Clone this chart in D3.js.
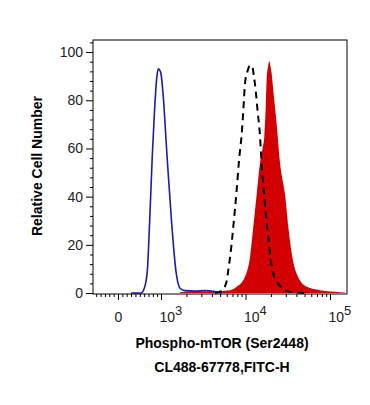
<!DOCTYPE html>
<html>
<head>
<meta charset="utf-8">
<script src="https://cdn.jsdelivr.net/npm/d3@7"></script>
<style>
  body { margin: 0; background: #fff; }
  text { font-family: "Liberation Sans", Arial, sans-serif; }
</style>
</head>
<body>
<div id="chart"></div>
<script>
// histogram samples: fluorescence intensity (FITC-H) and relative cell number
var blueX = [300, 528, 603, 672, 727, 787, 842, 889, 929, 965, 1000, 1056, 1178, 1331, 1504, 1679, 1923, 2526, 3317, 4356, 5272];
var blueY = [0, 0, 2, 9, 30, 57, 77, 89, 93, 92.5, 91, 83, 57, 30, 9, 2, 1, 0.8, 1, 0.6, 0];

var dashX = [4356, 5272, 5991, 6257, 6735, 7171, 7870, 8378, 9016, 9470, 9865, 10560, 11310, 12100, 12440, 13210, 13950, 14720, 15680, 16560, 17480, 18620, 19870, 21330, 23400, 25610, 29340, 38530, 50600];
var dashY = [0, 1, 5, 9.5, 18, 27.5, 43, 55, 66, 77, 87, 92, 94.5, 94, 91, 84, 75, 67, 51, 42, 32, 23, 14, 8, 5, 3, 1.2, 0.3, 0];

var redX = [1679, 2526, 3317, 4356, 5720, 6555, 7870, 9865, 11310, 12370, 13570, 14850, 15900, 16690, 17340, 17820, 18470, 19130, 19760, 20420, 21330, 23400, 25610, 27410, 29340, 32100, 35220, 40360, 53010, 76150, 114600, 150500];
var redY = [0.3, 0.8, 0.6, 0.7, 1, 1.2, 2.6, 6.8, 15, 27.5, 41, 54, 60, 65, 77, 89, 94, 96.3, 94, 91, 84, 70, 54, 47, 41, 27.5, 16.5, 8, 2.6, 1.2, 0.5, 0.2];

var yMajor = [0, 20, 40, 60, 80, 100];
var xMajor = [0, 1e3, 1e4, 1e5];
var xMajorLabels = ["0", "3", "4", "5"];
var xLinMinor = [-500, -400, -300, -200, -100, 100, 200, 300, 400, 500, 600, 700, 800, 900];
var xLogMinor = [2e3, 3e3, 4e3, 5e3, 6e3, 7e3, 8e3, 9e3, 2e4, 3e4, 4e4, 5e4, 6e4, 7e4, 8e4, 9e4];

var margin = {top: 40, right: 23, bottom: 111, left: 93},
    width = 370 - margin.left - margin.right,
    height = 405 - margin.top - margin.bottom;

var svg = d3.select("#chart")
    .append("svg")
    .attr("width", 370)
    .attr("height", 405)
    .append("g")
    .attr("transform", "translate(" + margin.left + "," + margin.top + ")");

// logicle-like x: linear around zero, log from ~10^3 up, joined smoothly
var xLog = d3.scaleLog().domain([1e3, 1e5]).range([68, 237]);
var decade = (xLog(1e5) - xLog(1e3)) / 2;
var T = xLog.invert(25 + decade / Math.LN10);
var xLin = d3.scaleLinear().domain([0, T]).range([25, xLog(T)]);
function x(v) { return v >= T ? xLog(v) : xLin(v); }
x.copy = function() { return x; };
x.range = function() { return [0, width]; };
x.domain = function() { return [xLin.invert(0), xLog.invert(width)]; };

var y = d3.scaleLinear().domain([-0.4, 105]).range([height, 0]);

var red = redX.map(function(d, i) { return {x: d, y: redY[i]}; });
var blue = blueX.map(function(d, i) { return {x: d, y: blueY[i]}; });
var dash = dashX.map(function(d, i) { return {x: d, y: dashY[i]}; });

svg.append("path")
    .datum(red)
    .attr("fill", "#d20000")
    .attr("d", d3.area()
        .curve(d3.curveMonotoneX)
        .x(function(d) { return x(d.x); })
        .y0(y(0))
        .y1(function(d) { return y(d.y); }));

var line = d3.line()
    .curve(d3.curveMonotoneX)
    .x(function(d) { return x(d.x); })
    .y(function(d) { return y(d.y); });

svg.append("path")
    .datum(blue)
    .attr("fill", "none")
    .attr("stroke", "#1c1ca8")
    .attr("stroke-width", 1.6)
    .attr("d", line);

svg.append("path")
    .datum(dash)
    .attr("fill", "none")
    .attr("stroke", "#000")
    .attr("stroke-width", 2)
    .attr("stroke-dasharray", "7,5")
    .attr("d", line);

// frame
svg.append("rect")
    .attr("width", width)
    .attr("height", height)
    .attr("fill", "none")
    .attr("stroke", "#000")
    .attr("stroke-width", 1);

// y axis
var yMinor = d3.range(4, 105, 4).filter(function(v) { return v % 20 !== 0; });
svg.append("g")
    .call(d3.axisLeft(y).tickValues(yMinor).tickSize(3).tickFormat(""))
    .call(function(g) { g.select(".domain").remove(); });
svg.append("g")
    .call(d3.axisLeft(y).tickValues(yMajor).tickSize(7).tickPadding(3))
    .call(function(g) { g.select(".domain").remove(); })
    .call(function(g) {
        g.selectAll("text")
            .style("font-size", "14px")
            .style("fill", "#222");
    });

// x axis
svg.append("g")
    .attr("transform", "translate(0," + height + ")")
    .call(d3.axisBottom(x).tickValues(xLinMinor.concat(xLogMinor)).tickSize(3).tickFormat(""))
    .call(function(g) { g.select(".domain").remove(); });

var xAx = svg.append("g")
    .attr("transform", "translate(0," + height + ")")
    .call(d3.axisBottom(x).tickValues(xMajor).tickSize(6))
    .call(function(g) { g.select(".domain").remove(); });

xAx.selectAll("text").each(function(d, i) {
    var t = d3.select(this).text(null)
        .attr("y", 28)
        .attr("dy", null)
        .style("font-size", "14px")
        .style("fill", "#222");
    if (d === 0) {
        t.attr("text-anchor", "middle").text(xMajorLabels[i]);
    } else {
        t.attr("text-anchor", "start").attr("x", -2);
        t.append("tspan").text("10");
        t.append("tspan").attr("dy", -7.5).style("font-size", "13px").text(xMajorLabels[i]);
    }
});

// titles
svg.append("text")
    .attr("transform", "translate(" + (42 - margin.left) + "," + (166 - margin.top) + ") rotate(-90)")
    .attr("text-anchor", "middle")
    .style("font-size", "14px")
    .style("font-weight", "bold")
    .text("Relative Cell Number");

svg.append("text")
    .attr("x", 222 - margin.left)
    .attr("y", 348 - margin.top)
    .attr("text-anchor", "middle")
    .style("font-size", "14px")
    .style("font-weight", "bold")
    .text("Phospho-mTOR (Ser2448)");

svg.append("text")
    .attr("x", 222 - margin.left)
    .attr("y", 372 - margin.top)
    .attr("text-anchor", "middle")
    .style("font-size", "14px")
    .style("font-weight", "bold")
    .text("CL488-67778,FITC-H");
</script>
</body>
</html>
